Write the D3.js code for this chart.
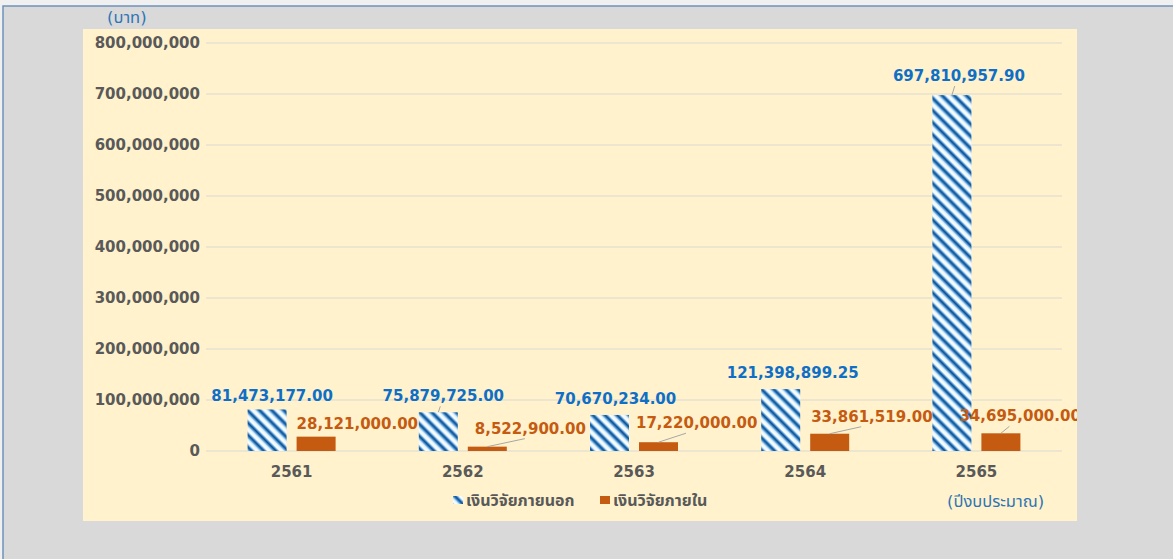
<!DOCTYPE html>
<html>
<head>
<meta charset="utf-8">
<script src="https://cdn.jsdelivr.net/npm/d3@7"></script>
<style>
  body { margin: 0; background: #f0f0f0; }
  svg text { font-family: "DejaVu Sans", "Noto Sans Thai", "Noto Sans", sans-serif; }
</style>
</head>
<body>
<div id="chart"></div>
<script>
// research funding by fiscal year
var years = [ "2561", "2562", "2563", "2564", "2565" ];
var externalFunds = [ 81473177.00, 75879725.00, 70670234.00, 121398899.25, 697810957.90 ];
var internalFunds = [ 28121000.00, 8522900.00, 17220000.00, 33861519.00, 34695000.00 ];
var seriesNames = [ "เงินวิจัยภายนอก", "เงินวิจัยภายใน" ];
var yTicks = [ 0, 100000000, 200000000, 300000000, 400000000, 500000000, 600000000, 700000000, 800000000 ];

// label nudges (dx, dy) as placed in the source chart, plus leader line flags
var extNudge = [ [ 5, -8 ], [ 5, -11 ], [ 6, -11 ], [ 12, -11 ], [ 7, -14 ] ];
var intNudge = [ [ 0, -7.5 ], [ 7, -13 ], [ -3, -14 ], [ 1, -12 ], [ -22, -12 ] ];
var extLeader = [ false, true, false, false, true ];
var intLeader = [ false, true, true, true, true ];

var W = 1173, H = 559;
var plot = { x: 83, y: 29, w: 994, h: 492 };

var svg = d3.select( "#chart" ).append( "svg" )
    .attr( "width", W )
    .attr( "height", H );

// stripes pattern for the external series
var defs = svg.append( "defs" );
var grad = defs.append( "linearGradient" ).attr( "id", "stripeGrad" )
    .attr( "x1", "0" ).attr( "x2", "1" ).attr( "y1", "0" ).attr( "y2", "0" );
[ [ 0, "#ffffff" ], [ 0.25, "#e4f5ff" ], [ 0.45, "#4a94d2" ], [ 0.6, "#0c4b8b" ], [ 0.75, "#3985ca" ], [ 0.9, "#e0f3ff" ], [ 1, "#ffffff" ] ]
    .forEach( function( s ) {
        grad.append( "stop" ).attr( "offset", s[ 0 ] ).attr( "stop-color", s[ 1 ] );
    });
defs.append( "pattern" ).attr( "id", "stripes" )
    .attr( "patternUnits", "userSpaceOnUse" )
    .attr( "width", 8.6 ).attr( "height", 8.6 )
    .attr( "patternTransform", "rotate(-45)" )
    .append( "rect" )
    .attr( "width", 8.6 ).attr( "height", 8.6 )
    .attr( "fill", "url(#stripeGrad)" );

// background frame
svg.append( "rect" ).attr( "x", 3 ).attr( "y", 6 ).attr( "width", W ).attr( "height", H )
    .attr( "fill", "#d9d9d9" ).attr( "stroke", "#6f93ba" ).attr( "stroke-width", 1.5 );
svg.append( "rect" ).attr( "x", plot.x ).attr( "y", plot.y )
    .attr( "width", plot.w ).attr( "height", plot.h ).attr( "fill", "#fff2cc" );

var clip = defs.append( "clipPath" ).attr( "id", "plotClip" );
clip.append( "rect" ).attr( "x", plot.x ).attr( "y", plot.y ).attr( "width", plot.w ).attr( "height", plot.h );

// scales
var x = d3.scaleBand().domain( years ).range( [ 206, 1062 ] );
var y = d3.scaleLinear().domain( [ 0, 800000000 ] ).range( [ 451, 43 ] );
var barW = 39, gap = 10;
function extX( i ) { return x( years[ i ] ) + x.bandwidth() / 2 - gap / 2 - barW; }
function intX( i ) { return x( years[ i ] ) + x.bandwidth() / 2 + gap / 2; }

var g = svg.append( "g" ).attr( "clip-path", "url(#plotClip)" );

// gridlines
g.selectAll( "line.grid" )
    .data( yTicks )
    .enter().append( "line" )
    .attr( "x1", 206 ).attr( "x2", 1062 )
    .attr( "y1", function( d ) { return y( d ); } )
    .attr( "y2", function( d ) { return y( d ); } )
    .attr( "stroke", "#e6e0d2" ).attr( "stroke-width", 1.5 );

// y axis labels
var yAxis = svg.append( "g" )
    .attr( "transform", "translate(200,0)" )
    .call( d3.axisLeft( y ).tickValues( yTicks ).tickSize( 0 ).tickPadding( 0 ).tickFormat( d3.format( ",d" ) ) );
yAxis.select( ".domain" ).remove();
yAxis.selectAll( "text" )
    .attr( "fill", "#595959" )
    .style( "font-size", "15px" )
    .style( "font-weight", "bold" );

// x axis labels
var xAxis = svg.append( "g" )
    .attr( "transform", "translate(0,466)" )
    .call( d3.axisBottom( x ).tickSize( 0 ).tickPadding( 0 ) );
xAxis.select( ".domain" ).remove();
xAxis.selectAll( "text" )
    .attr( "fill", "#595959" )
    .style( "font-size", "15px" )
    .style( "font-weight", "bold" );

// bars
g.selectAll( "rect.ext" )
    .data( externalFunds )
    .enter().append( "rect" )
    .attr( "x", function( d, i ) { return extX( i ); } )
    .attr( "y", function( d ) { return y( d ); } )
    .attr( "width", barW )
    .attr( "height", function( d ) { return y( 0 ) - y( d ); } )
    .attr( "fill", "url(#stripes)" );

g.selectAll( "rect.int" )
    .data( internalFunds )
    .enter().append( "rect" )
    .attr( "x", function( d, i ) { return intX( i ); } )
    .attr( "y", function( d ) { return y( d ); } )
    .attr( "width", barW )
    .attr( "height", function( d ) { return y( 0 ) - y( d ); } )
    .attr( "fill", "#c55a11" );

var fmt = d3.format( ",.2f" );

// leader lines
externalFunds.forEach( function( d, i ) {
    if( !extLeader[ i ] ) return;
    var cx = extX( i ) + barW / 2;
    g.append( "line" )
        .attr( "x1", cx ).attr( "y1", y( d ) )
        .attr( "x2", cx + extNudge[ i ][ 0 ] * 0.4 ).attr( "y2", y( d ) + extNudge[ i ][ 1 ] + 5 )
        .attr( "stroke", "#a6a6a6" ).attr( "stroke-width", 1 );
});
internalFunds.forEach( function( d, i ) {
    if( !intLeader[ i ] ) return;
    var cx = intX( i ) + barW / 2;
    var lx = intX( i ) + intNudge[ i ][ 0 ] + 50;
    g.append( "line" )
        .attr( "x1", cx ).attr( "y1", y( d ) )
        .attr( "x2", lx ).attr( "y2", y( d ) + intNudge[ i ][ 1 ] + 5 )
        .attr( "stroke", "#a6a6a6" ).attr( "stroke-width", 1 );
});

// data labels
g.selectAll( "text.ext" )
    .data( externalFunds )
    .enter().append( "text" )
    .attr( "x", function( d, i ) { return extX( i ) + barW / 2 + extNudge[ i ][ 0 ]; } )
    .attr( "y", function( d, i ) { return y( d ) + extNudge[ i ][ 1 ]; } )
    .attr( "text-anchor", "middle" )
    .attr( "fill", "#0f6fc6" )
    .style( "font-size", "15px" )
    .style( "font-weight", "bold" )
    .text( function( d ) { return fmt( d ); } );

g.selectAll( "text.int" )
    .data( internalFunds )
    .enter().append( "text" )
    .attr( "x", function( d, i ) { return intX( i ) + intNudge[ i ][ 0 ]; } )
    .attr( "y", function( d, i ) { return y( d ) + intNudge[ i ][ 1 ]; } )
    .attr( "fill", "#c55a11" )
    .style( "font-size", "15px" )
    .style( "font-weight", "bold" )
    .text( function( d ) { return fmt( d ); } );

// axis titles
svg.append( "text" )
    .attr( "x", 107 ).attr( "y", 23 )
    .attr( "fill", "#2e75b6" )
    .style( "font-size", "16.5px" )
    .text( "(บาท)" );
svg.append( "text" )
    .attr( "x", 947 ).attr( "y", 507 )
    .attr( "fill", "#2e75b6" )
    .style( "font-size", "16.5px" )
    .text( "(ปีงบประมาณ)" );

// legend
var legend = svg.append( "g" );
var legendX = [ 453, 600 ];
var legendFill = [ "url(#stripes)", "#c55a11" ];
seriesNames.forEach( function( name, i ) {
    legend.append( "rect" )
        .attr( "x", legendX[ i ] ).attr( "y", 496 )
        .attr( "width", 10 ).attr( "height", 8 )
        .attr( "fill", legendFill[ i ] );
    legend.append( "text" )
        .attr( "x", legendX[ i ] + 13 ).attr( "y", 506 )
        .attr( "fill", "#595959" )
        .style( "font-size", "16px" )
        .style( "font-weight", "bold" )
        .text( name );
});
</script>
</body>
</html>
